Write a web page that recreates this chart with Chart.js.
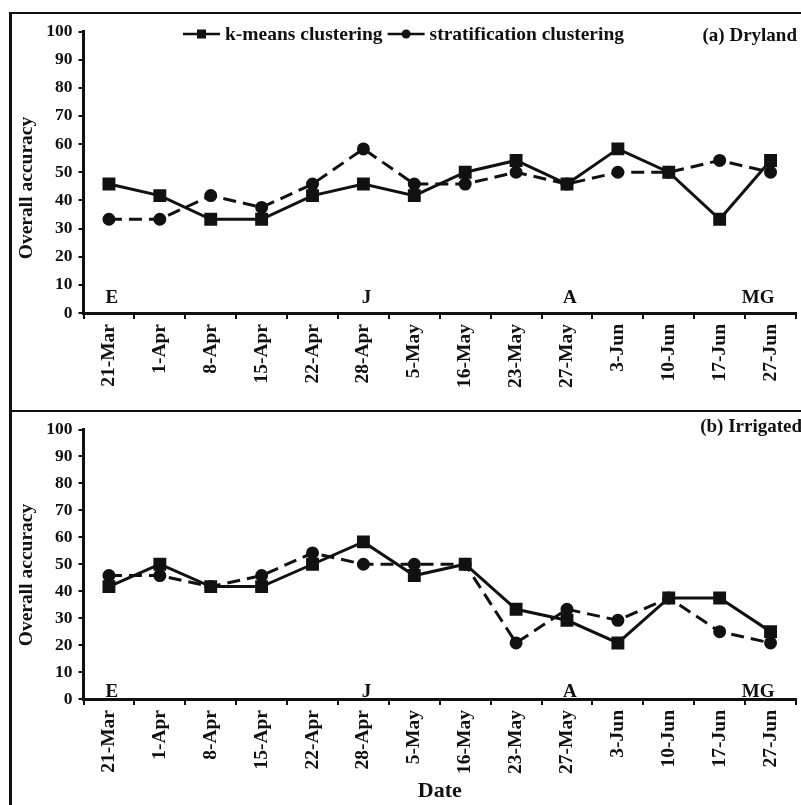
<!DOCTYPE html>
<html lang="en">
<head>
    <meta charset="UTF-8">
    <title>Overall accuracy by date</title>
    <script src="https://cdn.jsdelivr.net/npm/chart.js"></script>
    <style>
        body {
            margin: 0;
            overflow: hidden;
            background: #fff;
        }
        .frame {
            position: absolute;
            background: #111;
        }
        canvas {
            position: absolute;
        }
    </style>
</head>
<body>

<div class="frame" style="left:9px; top:12px; width:800px; height:2px;"></div>
<div class="frame" style="left:9px; top:410px; width:800px; height:2px;"></div>
<div class="frame" style="left:9px; top:12px; width:3px; height:800px;"></div>

<canvas id="chartDry" width="794" height="396" style="left:12px; top:15px;"></canvas>
<canvas id="chartIrr" width="794" height="392" style="left:12px; top:413px;"></canvas>

<script>
    // dates of the image acquisitions
    const dates = ['21-Mar', '1-Apr', '8-Apr', '15-Apr', '22-Apr', '28-Apr', '5-May',
                   '16-May', '23-May', '27-May', '3-Jun', '10-Jun', '17-Jun', '27-Jun'];

    // (a) dryland
    const dryKmeans = [45.8, 41.7, 33.3, 33.3, 41.7, 45.8, 41.7, 50, 54.2, 45.8, 58.3, 50, 33.3, 54.2];
    const dryStrat  = [33.3, 33.3, 41.7, 37.5, 45.8, 58.3, 45.8, 45.8, 50, 45.8, 50, 50, 54.2, 50];

    // (b) irrigated
    const irrKmeans = [41.7, 50, 41.7, 41.7, 50, 58.3, 45.8, 50, 33.3, 29.2, 20.8, 37.5, 37.5, 25];
    const irrStrat  = [45.8, 45.8, 41.7, 45.8, 54.2, 50, 50, 50, 20.8, 33.3, 29.2, 37.5, 25, 20.8];

    // growth stages marked under the lines
    const stageLabels = ['E', 'J', 'A', 'MG'];
    const stageDates  = ['21-Mar', '28-Apr', '27-May', '27-Jun'];

    const seriesNames = ['k-means clustering', 'stratification clustering'];
    const yTitle = 'Overall accuracy';

    const serif = '"Liberation Serif", "Times New Roman", serif';

    // draws stage letters, y title, panel name and (optionally) the legend
    const extrasPlugin = {
        id: 'extras',
        afterDraw(chart, args, opts) {
            const ctx = chart.ctx;
            const xs = chart.scales.x;
            const area = chart.chartArea;
            ctx.save();
            ctx.fillStyle = '#111';
            ctx.font = 'bold 19px ' + serif;
            ctx.textBaseline = 'alphabetic';
            stageLabels.forEach(function (lab, i) {
                const x = xs.getPixelForValue(dates.indexOf(stageDates[i]));
                if (lab === 'MG') {
                    ctx.textAlign = 'right';
                    ctx.fillText(lab, x + 4, area.bottom - opts.stageGap);
                } else {
                    ctx.textAlign = 'center';
                    ctx.fillText(lab, x + 3, area.bottom - opts.stageGap);
                }
            });

            ctx.textAlign = 'right';
            ctx.textBaseline = 'middle';
            ctx.fillText(opts.panel, opts.panelX, opts.panelY);

            // y axis title, sits a bit below the middle of the axis
            ctx.save();
            ctx.translate(15, opts.titleY);
            ctx.rotate(-Math.PI / 2);
            ctx.textAlign = 'center';
            ctx.font = 'bold 19.5px ' + serif;
            ctx.fillText(yTitle, 0, 0);
            ctx.restore();

            if (opts.legend) {
                let x = 171;
                const y = 19;
                ctx.font = 'bold 19.5px ' + serif;
                chart.data.datasets.forEach(function (ds) {
                    ctx.strokeStyle = '#111';
                    ctx.lineWidth = 2.5;
                    ctx.beginPath();
                    ctx.moveTo(x, y);
                    ctx.lineTo(x + 37, y);
                    ctx.stroke();
                    ctx.fillStyle = '#111';
                    if (ds.pointStyle === 'rect') {
                        ctx.fillRect(x + 14, y - 4.5, 9, 9);
                    } else {
                        ctx.beginPath();
                        ctx.arc(x + 18.5, y, 4.5, 0, Math.PI * 2);
                        ctx.fill();
                    }
                    x += 42;
                    ctx.textAlign = 'left';
                    ctx.textBaseline = 'middle';
                    ctx.fillText(ds.label, x, y + 1);
                    x += ctx.measureText(ds.label).width + 5;
                });
            }
            ctx.restore();
        }
    };

    function makeChart(id, kmeans, strat, extras, xHeight, padTop, showDate) {
        const ctx = document.getElementById(id).getContext('2d');
        return new Chart(ctx, {
            type: 'line',
            data: {
                labels: dates,
                datasets: [{
                    label: seriesNames[0],
                    data: kmeans,
                    borderColor: '#111',
                    backgroundColor: '#111',
                    borderWidth: 3,
                    pointStyle: 'rect',
                    pointRadius: 7,
                    pointHoverRadius: 7,
                    tension: 0
                }, {
                    label: seriesNames[1],
                    data: strat,
                    borderColor: '#111',
                    backgroundColor: '#111',
                    borderWidth: 3,
                    borderDash: [13, 7],
                    pointStyle: 'circle',
                    pointRadius: 5,
                    pointHoverRadius: 5,
                    tension: 0
                }]
            },
            options: {
                responsive: false,
                animation: false,
                devicePixelRatio: 1,
                layout: {
                    padding: { top: padTop, right: 2, left: 0, bottom: 0 }
                },
                plugins: {
                    legend: { display: false },
                    tooltip: { enabled: false },
                    extras: extras
                },
                scales: {
                    x: {
                        type: 'category',
                        offset: true,
                        afterFit(s) { s.height = xHeight; },
                        grid: {
                            offset: true,
                            drawOnChartArea: false,
                            color: '#111',
                            lineWidth: 2,
                            tickLength: 6
                        },
                        border: { display: true, color: '#111', width: 3 },
                        ticks: {
                            autoSkip: false,
                            minRotation: 90,
                            maxRotation: 90,
                            padding: 5,
                            color: '#111',
                            font: { family: serif, size: 19.5, weight: 'bold' }
                        },
                        title: {
                            display: showDate,
                            text: 'Date',
                            color: '#111',
                            padding: { top: 0, bottom: 0 },
                            font: { family: serif, size: 22, weight: 'bold' }
                        }
                    },
                    y: {
                        min: 0,
                        max: 100,
                        afterFit(s) { s.width = 71.5; },
                        grid: {
                            drawOnChartArea: false,
                            color: '#111',
                            lineWidth: 2,
                            tickLength: 5
                        },
                        border: { display: true, color: '#111', width: 3 },
                        ticks: {
                            stepSize: 10,
                            padding: 6,
                            color: '#111',
                            font: { family: serif, size: 17.5, weight: 'bold' }
                        }
                    }
                }
            },
            plugins: [extrasPlugin]
        });
    }

    makeChart('chartDry', dryKmeans, dryStrat,
        { legend: true, panel: '(a) Dryland', panelX: 785, panelY: 21, stageGap: 10, titleY: 173 },
        98, 9, false);

    makeChart('chartIrr', irrKmeans, irrStrat,
        { legend: false, panel: '(b) Irrigated', panelX: 790, panelY: 14, stageGap: 2, titleY: 162 },
        106, 13, true);
</script>

</body>
</html>
